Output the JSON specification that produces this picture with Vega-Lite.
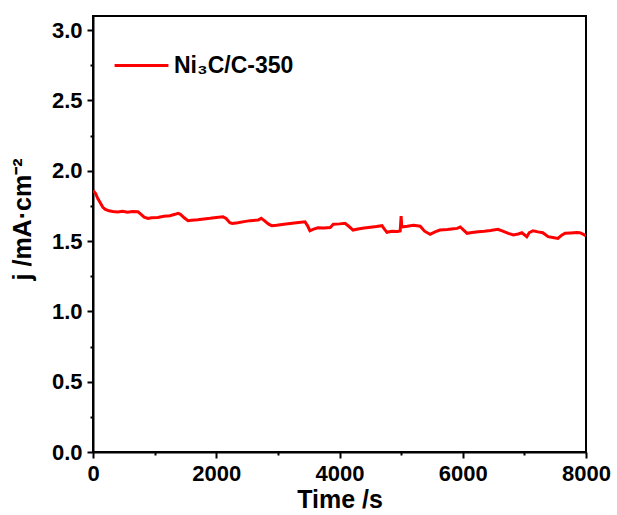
{
  "$schema": "https://vega.github.io/schema/vega-lite/v6.json",
  "autosize": "none",
  "padding": {"left": 93, "top": 16, "right": 31, "bottom": 63},
  "width": 493,
  "height": 436,
  "background": "white",
  "config": {
    "view": {"stroke": "black", "strokeWidth": 2},
    "font": "Liberation Sans"
  },
  "data": {"values": [
    {"t": 0, "j": 1.86, "s": "Ni₃C/C-350"},
    {"t": 40, "j": 1.84, "s": "Ni₃C/C-350"},
    {"t": 80, "j": 1.8, "s": "Ni₃C/C-350"},
    {"t": 120, "j": 1.77, "s": "Ni₃C/C-350"},
    {"t": 160, "j": 1.74, "s": "Ni₃C/C-350"},
    {"t": 200, "j": 1.725, "s": "Ni₃C/C-350"},
    {"t": 260, "j": 1.715, "s": "Ni₃C/C-350"},
    {"t": 320, "j": 1.71, "s": "Ni₃C/C-350"},
    {"t": 400, "j": 1.707, "s": "Ni₃C/C-350"},
    {"t": 480, "j": 1.711, "s": "Ni₃C/C-350"},
    {"t": 560, "j": 1.705, "s": "Ni₃C/C-350"},
    {"t": 640, "j": 1.71, "s": "Ni₃C/C-350"},
    {"t": 730, "j": 1.708, "s": "Ni₃C/C-350"},
    {"t": 780, "j": 1.69, "s": "Ni₃C/C-350"},
    {"t": 830, "j": 1.67, "s": "Ni₃C/C-350"},
    {"t": 893, "j": 1.66, "s": "Ni₃C/C-350"},
    {"t": 950, "j": 1.665, "s": "Ni₃C/C-350"},
    {"t": 1050, "j": 1.668, "s": "Ni₃C/C-350"},
    {"t": 1150, "j": 1.676, "s": "Ni₃C/C-350"},
    {"t": 1250, "j": 1.68, "s": "Ni₃C/C-350"},
    {"t": 1330, "j": 1.69, "s": "Ni₃C/C-350"},
    {"t": 1380, "j": 1.697, "s": "Ni₃C/C-350"},
    {"t": 1420, "j": 1.69, "s": "Ni₃C/C-350"},
    {"t": 1480, "j": 1.665, "s": "Ni₃C/C-350"},
    {"t": 1542, "j": 1.645, "s": "Ni₃C/C-350"},
    {"t": 1600, "j": 1.648, "s": "Ni₃C/C-350"},
    {"t": 1700, "j": 1.652, "s": "Ni₃C/C-350"},
    {"t": 1800, "j": 1.657, "s": "Ni₃C/C-350"},
    {"t": 1900, "j": 1.662, "s": "Ni₃C/C-350"},
    {"t": 2000, "j": 1.668, "s": "Ni₃C/C-350"},
    {"t": 2110, "j": 1.672, "s": "Ni₃C/C-350"},
    {"t": 2160, "j": 1.66, "s": "Ni₃C/C-350"},
    {"t": 2220, "j": 1.63, "s": "Ni₃C/C-350"},
    {"t": 2260, "j": 1.625, "s": "Ni₃C/C-350"},
    {"t": 2350, "j": 1.63, "s": "Ni₃C/C-350"},
    {"t": 2450, "j": 1.638, "s": "Ni₃C/C-350"},
    {"t": 2550, "j": 1.645, "s": "Ni₃C/C-350"},
    {"t": 2680, "j": 1.649, "s": "Ni₃C/C-350"},
    {"t": 2730, "j": 1.661, "s": "Ni₃C/C-350"},
    {"t": 2780, "j": 1.645, "s": "Ni₃C/C-350"},
    {"t": 2850, "j": 1.62, "s": "Ni₃C/C-350"},
    {"t": 2900, "j": 1.609, "s": "Ni₃C/C-350"},
    {"t": 2980, "j": 1.612, "s": "Ni₃C/C-350"},
    {"t": 3100, "j": 1.62, "s": "Ni₃C/C-350"},
    {"t": 3200, "j": 1.625, "s": "Ni₃C/C-350"},
    {"t": 3300, "j": 1.63, "s": "Ni₃C/C-350"},
    {"t": 3440, "j": 1.637, "s": "Ni₃C/C-350"},
    {"t": 3480, "j": 1.61, "s": "Ni₃C/C-350"},
    {"t": 3520, "j": 1.573, "s": "Ni₃C/C-350"},
    {"t": 3580, "j": 1.585, "s": "Ni₃C/C-350"},
    {"t": 3650, "j": 1.594, "s": "Ni₃C/C-350"},
    {"t": 3750, "j": 1.592, "s": "Ni₃C/C-350"},
    {"t": 3850, "j": 1.596, "s": "Ni₃C/C-350"},
    {"t": 3900, "j": 1.619, "s": "Ni₃C/C-350"},
    {"t": 4000, "j": 1.622, "s": "Ni₃C/C-350"},
    {"t": 4090, "j": 1.626, "s": "Ni₃C/C-350"},
    {"t": 4150, "j": 1.605, "s": "Ni₃C/C-350"},
    {"t": 4220, "j": 1.578, "s": "Ni₃C/C-350"},
    {"t": 4300, "j": 1.585, "s": "Ni₃C/C-350"},
    {"t": 4400, "j": 1.592, "s": "Ni₃C/C-350"},
    {"t": 4500, "j": 1.598, "s": "Ni₃C/C-350"},
    {"t": 4600, "j": 1.603, "s": "Ni₃C/C-350"},
    {"t": 4690, "j": 1.609, "s": "Ni₃C/C-350"},
    {"t": 4720, "j": 1.59, "s": "Ni₃C/C-350"},
    {"t": 4770, "j": 1.562, "s": "Ni₃C/C-350"},
    {"t": 4850, "j": 1.57, "s": "Ni₃C/C-350"},
    {"t": 4940, "j": 1.568, "s": "Ni₃C/C-350"},
    {"t": 4985, "j": 1.572, "s": "Ni₃C/C-350"},
    {"t": 5000, "j": 1.678, "s": "Ni₃C/C-350"},
    {"t": 5010, "j": 1.6, "s": "Ni₃C/C-350"},
    {"t": 5100, "j": 1.605, "s": "Ni₃C/C-350"},
    {"t": 5200, "j": 1.612, "s": "Ni₃C/C-350"},
    {"t": 5310, "j": 1.605, "s": "Ni₃C/C-350"},
    {"t": 5380, "j": 1.57, "s": "Ni₃C/C-350"},
    {"t": 5470, "j": 1.548, "s": "Ni₃C/C-350"},
    {"t": 5550, "j": 1.565, "s": "Ni₃C/C-350"},
    {"t": 5630, "j": 1.578, "s": "Ni₃C/C-350"},
    {"t": 5750, "j": 1.582, "s": "Ni₃C/C-350"},
    {"t": 5850, "j": 1.588, "s": "Ni₃C/C-350"},
    {"t": 5910, "j": 1.59, "s": "Ni₃C/C-350"},
    {"t": 5960, "j": 1.6, "s": "Ni₃C/C-350"},
    {"t": 6010, "j": 1.58, "s": "Ni₃C/C-350"},
    {"t": 6070, "j": 1.555, "s": "Ni₃C/C-350"},
    {"t": 6150, "j": 1.56, "s": "Ni₃C/C-350"},
    {"t": 6250, "j": 1.566, "s": "Ni₃C/C-350"},
    {"t": 6350, "j": 1.57, "s": "Ni₃C/C-350"},
    {"t": 6450, "j": 1.575, "s": "Ni₃C/C-350"},
    {"t": 6570, "j": 1.583, "s": "Ni₃C/C-350"},
    {"t": 6650, "j": 1.57, "s": "Ni₃C/C-350"},
    {"t": 6740, "j": 1.555, "s": "Ni₃C/C-350"},
    {"t": 6820, "j": 1.543, "s": "Ni₃C/C-350"},
    {"t": 6900, "j": 1.55, "s": "Ni₃C/C-350"},
    {"t": 6960, "j": 1.559, "s": "Ni₃C/C-350"},
    {"t": 7040, "j": 1.531, "s": "Ni₃C/C-350"},
    {"t": 7080, "j": 1.56, "s": "Ni₃C/C-350"},
    {"t": 7140, "j": 1.573, "s": "Ni₃C/C-350"},
    {"t": 7220, "j": 1.565, "s": "Ni₃C/C-350"},
    {"t": 7300, "j": 1.559, "s": "Ni₃C/C-350"},
    {"t": 7385, "j": 1.531, "s": "Ni₃C/C-350"},
    {"t": 7460, "j": 1.525, "s": "Ni₃C/C-350"},
    {"t": 7545, "j": 1.519, "s": "Ni₃C/C-350"},
    {"t": 7600, "j": 1.54, "s": "Ni₃C/C-350"},
    {"t": 7660, "j": 1.555, "s": "Ni₃C/C-350"},
    {"t": 7750, "j": 1.557, "s": "Ni₃C/C-350"},
    {"t": 7850, "j": 1.56, "s": "Ni₃C/C-350"},
    {"t": 7900, "j": 1.559, "s": "Ni₃C/C-350"},
    {"t": 7950, "j": 1.55, "s": "Ni₃C/C-350"},
    {"t": 8000, "j": 1.536, "s": "Ni₃C/C-350"}
  ]},
  "mark": {"type": "line", "strokeWidth": 3, "clip": true},
  "encoding": {
    "x": {
      "field": "t", "type": "quantitative",
      "scale": {"domain": [0, 8000], "nice": false, "zero": false},
      "axis": {
        "title": "Time /s",
        "values": [0, 1000, 2000, 3000, 4000, 5000, 6000, 7000, 8000],
        "labelExpr": "datum.value % 2000 === 0 ? datum.label : ''",
        "format": "d",
        "grid": false,
        "domainColor": "black", "domainWidth": 2,
        "tickColor": "black", "tickWidth": 2,
        "tickSize": {"condition": {"test": "datum.value % 2000 === 0", "value": 6}, "value": 3},
        "labelFont": "Liberation Sans", "labelFontWeight": "bold", "labelFontSize": 22, "labelColor": "black",
        "labelPadding": 5, "labelFlush": false,
        "titleFont": "Liberation Sans", "titleFontWeight": "bold", "titleFontSize": 25, "titleColor": "black",
        "titlePadding": 3
      }
    },
    "y": {
      "field": "j", "type": "quantitative",
      "scale": {"domain": [0, 3.1], "nice": false, "zero": false},
      "axis": {
        "title": "j /mA·cm⁻²",
        "values": [0, 0.25, 0.5, 0.75, 1, 1.25, 1.5, 1.75, 2, 2.25, 2.5, 2.75, 3],
        "labelExpr": "(datum.value * 100) % 50 === 0 ? format(datum.value, '.1f') : ''",
        "grid": false,
        "domainColor": "black", "domainWidth": 2,
        "tickColor": "black", "tickWidth": 2,
        "tickSize": {"condition": {"test": "(datum.value * 100) % 50 === 0", "value": 6}, "value": 3},
        "labelFont": "Liberation Sans", "labelFontWeight": "bold", "labelFontSize": 22, "labelColor": "black",
        "labelPadding": 5, "labelFlush": false,
        "titleFont": "Liberation Sans", "titleFontWeight": "bold", "titleFontSize": 25, "titleColor": "black",
        "titleX": -58,
        "titleY": 203
      }
    },
    "color": {
      "field": "s", "type": "nominal",
      "scale": {"range": ["#ff0000"]},
      "legend": {
        "title": null,
        "orient": "none",
        "legendX": 20,
        "legendY": 21,
        "symbolType": "stroke",
        "symbolSize": 2900,
        "symbolStrokeWidth": 3,
        "labelFont": "Liberation Sans",
        "labelFontWeight": "bold",
        "labelFontSize": 23,
        "labelColor": "black",
        "labelOffset": 4,
        "padding": 0
      }
    }
  }
}
